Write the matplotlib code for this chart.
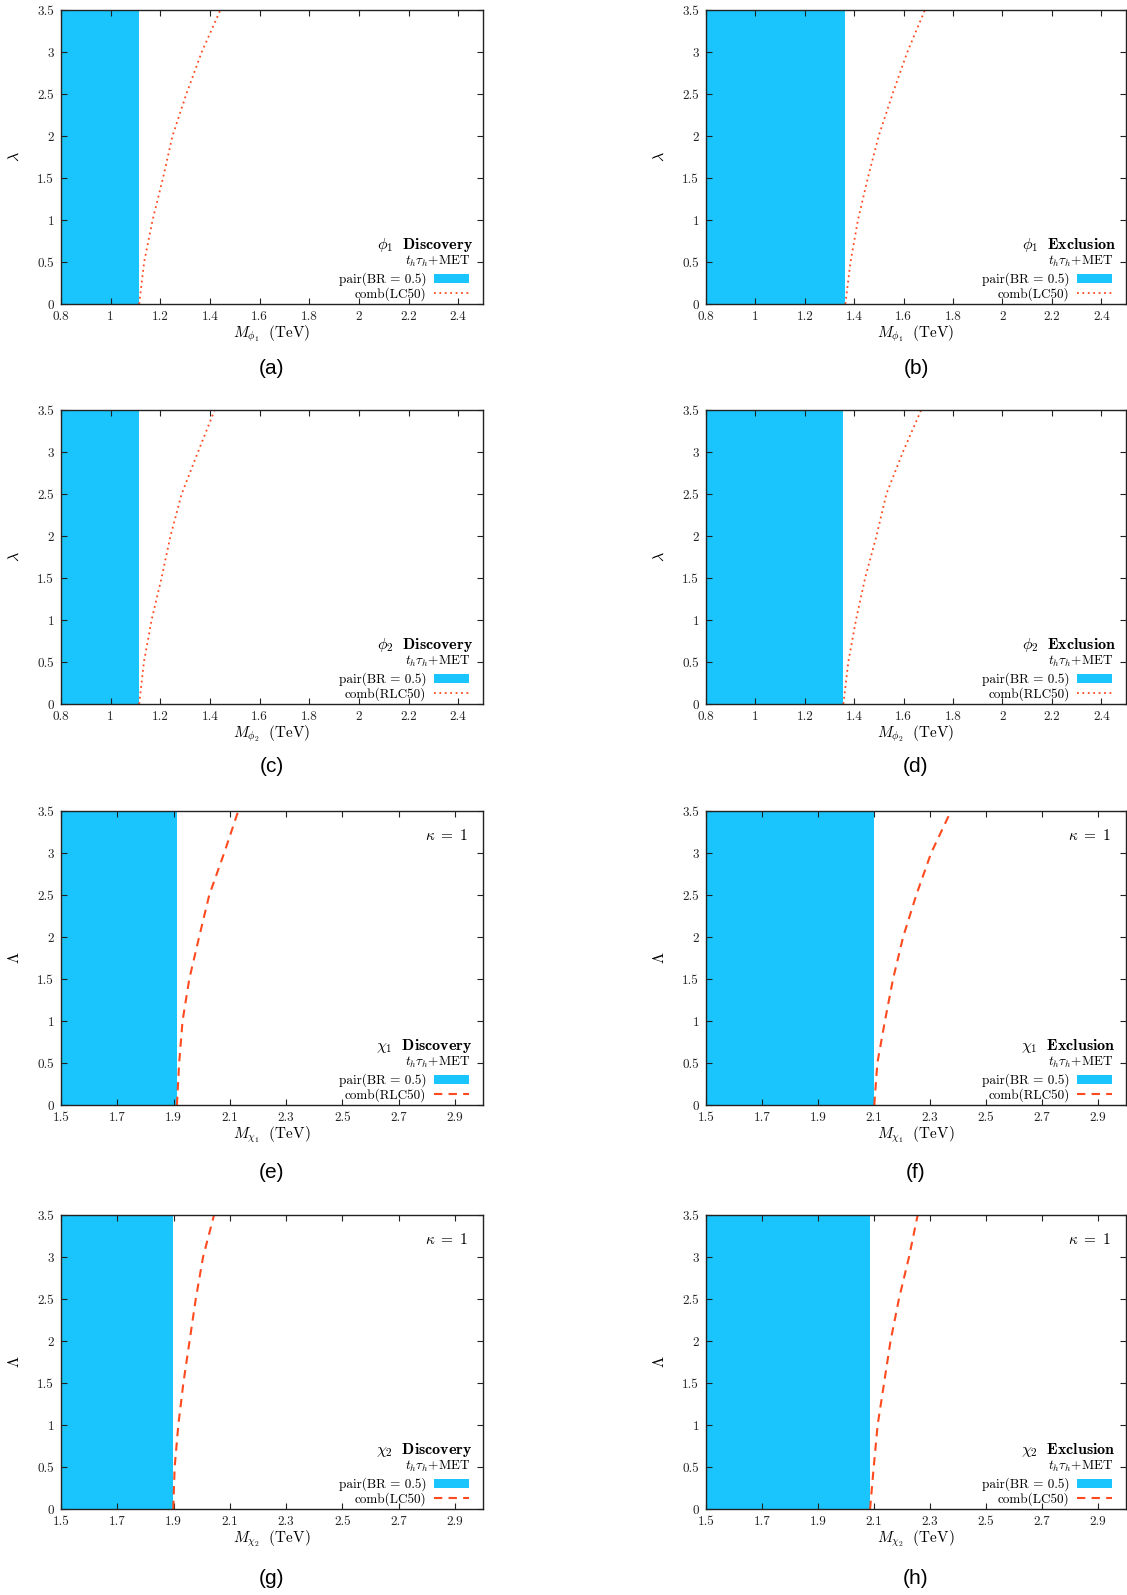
"""Discovery / exclusion reach in the (mass, coupling) plane, 8 panels."""

import matplotlib
matplotlib.use('Agg')
import matplotlib.pyplot as plt
from matplotlib.patches import Patch
from matplotlib.lines import Line2D
from matplotlib.ticker import FormatStrFormatter, MultipleLocator

plt.rcParams['font.family'] = 'serif'
plt.rcParams['font.serif'] = ['cmr10']
plt.rcParams['mathtext.fontset'] = 'cm'
plt.rcParams['axes.formatter.use_mathtext'] = True

# coupling values where the comb curves were read
coupling = [0, 0.5, 1, 1.5, 2, 2.5, 3, 3.5]

# pair-production reach (BR = 0.5), TeV, panels a..h
pair_reach = [1.115, 1.364, 1.115, 1.356, 1.912, 2.101, 1.899, 2.086]

# combined (pair + single) reach vs coupling, TeV
comb_a = [1.115, 1.135, 1.169, 1.211, 1.249, 1.305, 1.367, 1.442]
comb_b = [1.364, 1.385, 1.415, 1.455, 1.499, 1.555, 1.615, 1.686]
comb_c = [1.115, 1.134, 1.165, 1.205, 1.241, 1.286, 1.352, 1.419]
comb_d = [1.356, 1.376, 1.407, 1.444, 1.490, 1.530, 1.597, 1.671]
comb_e = [1.912, 1.920, 1.932, 1.956, 1.991, 2.027, 2.080, 2.130]
comb_f = [2.101, 2.112, 2.139, 2.168, 2.204, 2.251, 2.304, 2.375]
comb_g = [1.899, 1.904, 1.917, 1.935, 1.957, 1.979, 2.005, 2.044]
comb_h = [2.086, 2.099, 2.113, 2.136, 2.159, 2.189, 2.225, 2.256]
comb_curves = [comb_a, comb_b, comb_c, comb_d, comb_e, comb_f, comb_g, comb_h]

particles = [r'\phi_1', r'\phi_1', r'\phi_2', r'\phi_2',
             r'\chi_1', r'\chi_1', r'\chi_2', r'\chi_2']
modes = ['Discovery', 'Exclusion'] * 4
comb_labels = ['comb(LC50)', 'comb(LC50)', 'comb(RLC50)', 'comb(RLC50)',
               'comb(RLC50)', 'comb(RLC50)', 'comb(LC50)', 'comb(LC50)']
panel_tags = ['(a)', '(b)', '(c)', '(d)', '(e)', '(f)', '(g)', '(h)']

BLUE = '#19c5fc'
RED = '#ff4a1f'

W, H = 1127, 1595
fig = plt.figure(figsize=(W / 100, H / 100), dpi=100)

col_left = [61, 706]
col_width = [422, 420]
row_top = [10, 410, 811, 1215]
ax_h = 294
tag_y = [368, 767, 1172, 1578]

for i in range(8):
    r, c = divmod(i, 2)
    left = col_left[c] / W
    bottom = 1 - (row_top[r] + ax_h) / H
    ax = fig.add_axes([left, bottom, col_width[c] / W, ax_h / H])

    is_phi = r < 2
    if is_phi:
        xmin, xmax, xstart = 0.8, 2.5, 0.8
        ls = (0, (1, 2))
        lw = 1.3
        ylab = r'$\lambda$'
    else:
        xmin, xmax, xstart = 1.5, 3.0, 1.5
        ls = (0, (4, 3))
        lw = 1.5
        ylab = r'$\Lambda$'

    ax.axvspan(xmin, pair_reach[i], color=BLUE, lw=0, zorder=1)
    ax.plot(comb_curves[i], coupling, color=RED, ls=ls, lw=lw, zorder=2)

    ax.set_xlim(xmin, xmax)
    ax.set_ylim(0, 3.5)
    ax.xaxis.set_major_locator(MultipleLocator(0.2, offset=xstart % 0.2))
    ax.yaxis.set_major_locator(MultipleLocator(0.5))
    ax.xaxis.set_major_formatter(FormatStrFormatter('%g'))
    ax.yaxis.set_major_formatter(FormatStrFormatter('%g'))
    ax.tick_params(direction='in', top=True, right=True, length=4.5,
                   width=0.8, labelsize=9.5, pad=5, colors='#222222')
    for sp in ax.spines.values():
        sp.set_color('#222222')
        sp.set_linewidth(1.0)

    ax.set_xlabel(r'$M_{%s}\ \ \mathrm{(TeV)}$' % particles[i], fontsize=11)
    ax.xaxis.set_label_coords(0.5, -0.102)
    ax.xaxis.label.set_verticalalignment('center')
    ax.set_ylabel(ylab, fontsize=11.5)
    ax.yaxis.set_label_coords(-46 / col_width[c], 0.5)
    ax.yaxis.label.set_verticalalignment('center')

    ax.text(0.976, 0.20, r'$%s\ \ \mathbf{%s}$' % (particles[i], modes[i]),
            transform=ax.transAxes, ha='right', va='center', fontsize=11.5)
    ax.text(0.969, 0.146, r'$t_h\tau_h$+MET', transform=ax.transAxes,
            ha='right', va='center', fontsize=9.5)
    if not is_phi:
        ax.text(0.965, 0.918, r'$\kappa\ =\ 1$', transform=ax.transAxes,
                ha='right', va='center', fontsize=11)

    handles = [Patch(facecolor=BLUE, edgecolor='none'),
               Line2D([], [], color=RED, ls=ls, lw=lw)]
    ax.legend(handles, ['pair(BR = 0.5)', comb_labels[i]],
              loc='lower right', bbox_to_anchor=(0.972, 0.0),
              frameon=False, markerfirst=False, fontsize=9.5,
              handlelength=2.6, handleheight=0.7, handletextpad=0.6,
              labelspacing=0.1, borderpad=0.2, borderaxespad=0)

    fig.text(left + col_width[c] / W / 2, 1 - tag_y[r] / H, panel_tags[i],
             ha='center', va='center', fontsize=15, family='Liberation Sans')

fig.savefig('out.png', dpi=100)
